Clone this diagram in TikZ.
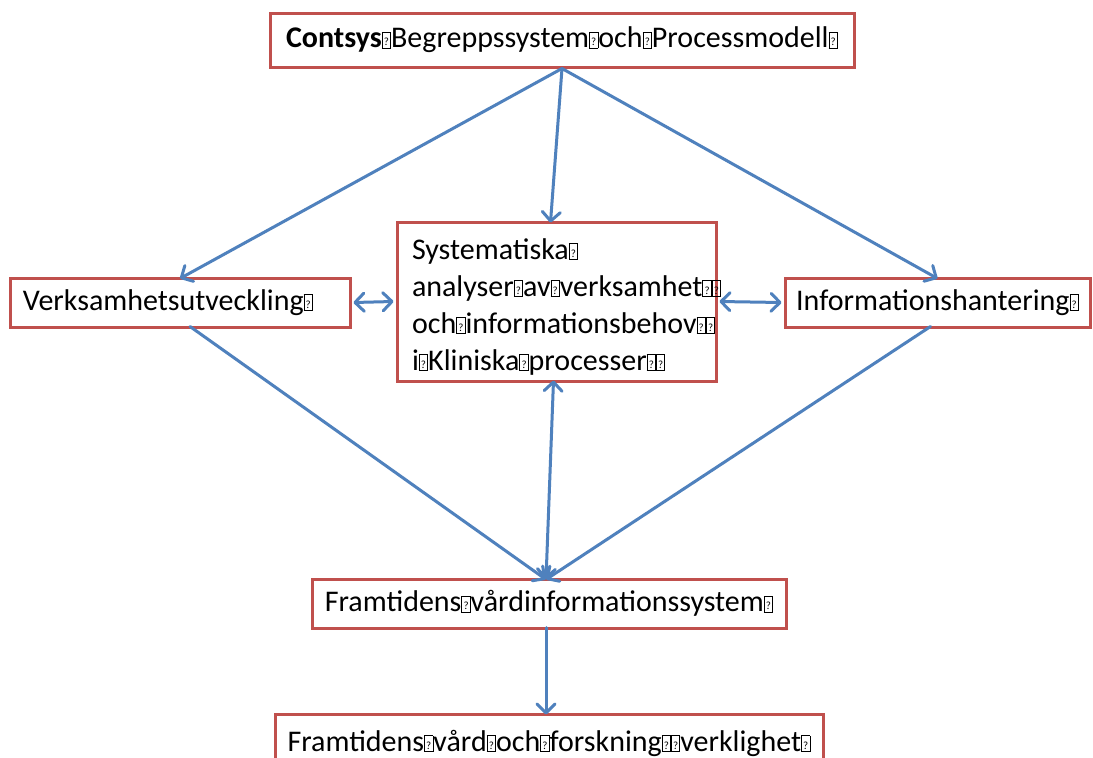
\documentclass[tikz,border=0pt]{standalone}
\usepackage{fontspec}
\setmainfont{Carlito}
\usetikzlibrary{arrows.meta}
\definecolor{boxred}{HTML}{C0504D}
\definecolor{linkblue}{HTML}{4F81BD}
% small framed placeholder glyph standing in for a space
\newcommand\qb{{\setlength\fboxsep{0pt}\setlength\fboxrule{0.9pt}\fbox{\makebox[7.5pt][c]{\rule{0pt}{15pt}\raisebox{2pt}{\fontsize{11}{11}\selectfont ?}}}}}
\tikzset{barb/.tip={Straight Barb[length=9pt,width=18pt,line cap=round,line join=round]}}
\begin{document}
\begin{tikzpicture}[x=1pt,y=-1pt,
  txt/.style={inner sep=0pt,font=\fontsize{30}{37}\selectfont},
  box/.style={txt,draw=boxred,line width=3pt,fill=white},
  link/.style={draw=linkblue,line width=3pt,line cap=round,-barb},
  both/.style={draw=linkblue,line width=3pt,line cap=round,barb-barb}]
\clip (0,0) rectangle (1093,758);
\fill[white] (0,0) rectangle (1093,758);

\node[box,minimum width=584pt,minimum height=54pt] (top) at (562,40)
  {\textbf{Contsys}\qb Begreppssystem\qb och\qb Processmodell\qb};
\node[box,minimum width=319pt,minimum height=159pt] (mid) at (556.5,301.5) {};
\node[txt,text width=289pt,align=left] (midtext) at ([yshift=-5pt]mid.center)
  {Systematiska\qb\\ analyser\qb av\qb verksamhet\qb\qb\\ och\qb informationsbehov\qb\qb\\ i\qb Kliniska\qb processer\qb\qb};
\node[box,minimum width=340pt,minimum height=49pt,text width=314pt,align=left,
  inner xsep=13pt] (lft) at (180,302.5)
  {Verksamhetsutveckling\qb};
\node[box,minimum width=305pt,minimum height=49pt] (rgt) at (937.5,302.5)
  {Informationshantering\qb};
\node[box,minimum width=474pt,minimum height=49pt] (fr) at (549,603.5)
  {Framtidens\qb vårdinformationssystem\qb};
\node[box,minimum width=548pt,minimum height=58pt] (bot) at (549,743)
  {Framtidens\qb vård\qb och\qb forskning\qb\qb verklighet\qb};

\draw[link] (top.south) -- ([yshift=-2pt]lft.north);
\draw[link] (top.south) -- ([xshift=-6pt,yshift=-2pt]mid.north);
\draw[link] (top.south) -- ([yshift=-2pt]rgt.north);
\draw[both] ([xshift=2pt]lft.east) -- ([xshift=-2pt]mid.west);
\draw[both] ([xshift=2pt]mid.east) -- ([xshift=-2pt]rgt.west);
\draw[link] ([xshift=10pt,yshift=2pt]lft.south) -- ([xshift=-3pt,yshift=-2pt]fr.north);
\draw[link] ([xshift=-7pt,yshift=2pt]rgt.south) -- ([xshift=-3pt,yshift=-2pt]fr.north);
\draw[both] ([xshift=-3pt,yshift=2pt]mid.south) -- ([xshift=-3pt,yshift=-2pt]fr.north);
\draw[link] ([xshift=-3pt,yshift=2pt]fr.south) -- ([xshift=-3pt,yshift=-2pt]bot.north);
\end{tikzpicture}
\end{document}
